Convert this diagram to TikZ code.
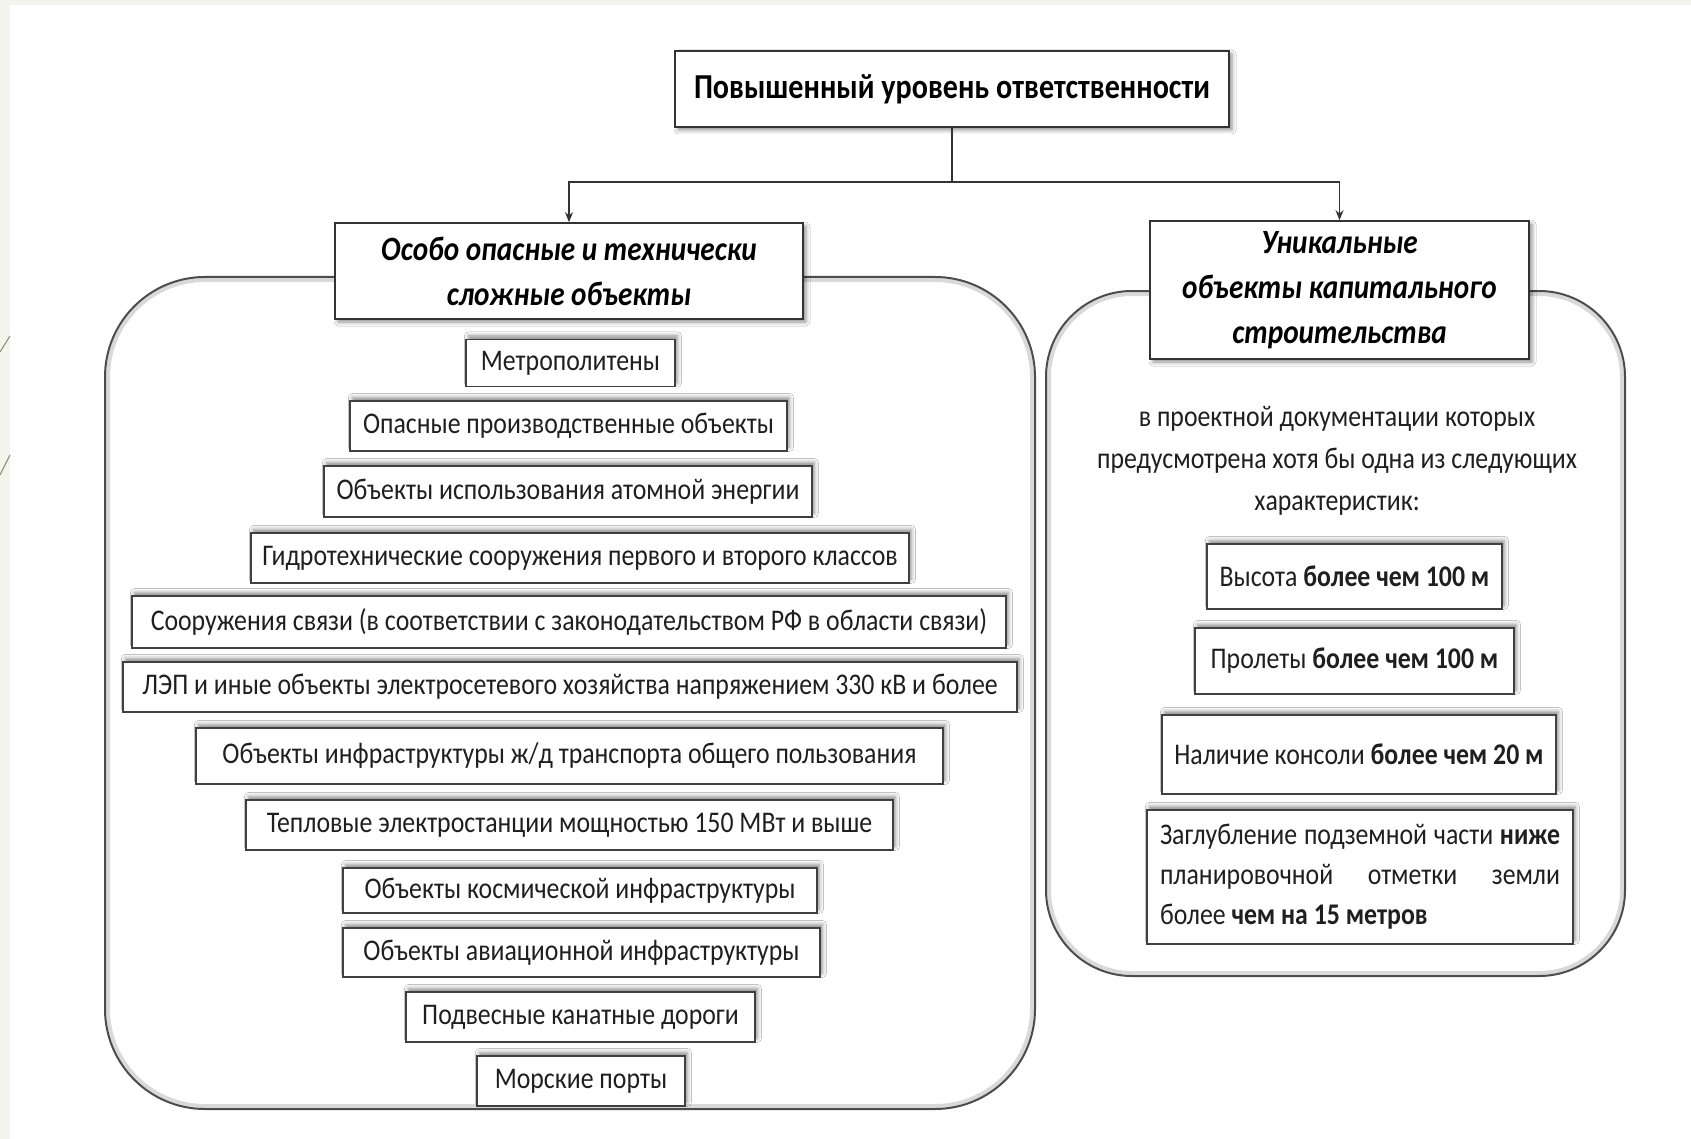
\documentclass[tikz,border=0pt]{standalone}
\usepackage{fontspec}
\setmainfont{Carlito}[FakeStretch=0.86]
\usetikzlibrary{arrows.meta,shadows.blur}
\definecolor{slidebg}{HTML}{F3F4EC}
\definecolor{slideline}{HTML}{8C8672}

\begin{document}
\begin{tikzpicture}[x=0.5pt,y=-0.5pt,
    item/.style={draw=black!75, line width=0.8pt, fill=white, inner sep=0pt,
      font=\fontsize{15}{18}\selectfont, text=black!88,
      blur shadow={shadow xshift=1.2pt, shadow yshift=1.8pt, shadow blur radius=2pt, shadow opacity=45}},
    head/.style={draw=black!80, line width=0.8pt, fill=white, inner sep=0pt, align=center,
      font=\fontsize{17}{22.5}\selectfont\bfseries\itshape,
      blur shadow={shadow xshift=1.5pt, shadow yshift=-1.5pt, shadow blur radius=2pt, shadow opacity=45}},
    group/.style={draw=black!70, line width=1pt},
    conn/.style={draw=black!80, line width=0.75pt}
  ]
  \useasboundingbox (0,0) rectangle (1691,1139);
  % slide background
  \fill[slidebg] (0,0) rectangle (1691,1139);
  \fill[white] (10,5) rectangle (1691,1139);
  \draw[slideline, line width=0.5pt] (0,352) -- (10,336);
  \draw[slideline, line width=0.5pt] (0,475) -- (10,455);

  % the two groups
  \draw[black!15, line width=2pt, rounded corners=48.5pt] (108,280) rectangle (1032,1106);
  \draw[group, rounded corners=50pt] (105,277) rectangle (1035,1109);
  \draw[black!15, line width=2pt, rounded corners=41.5pt] (1049,294) rectangle (1622,973);
  \draw[group, rounded corners=43pt] (1046,291) rectangle (1625,976);

  % headers
  \node[head, font=\fontsize{17.5}{21}\selectfont\bfseries, minimum width=277pt, minimum height=38pt] (resp) at (952,89) {Повышенный уровень ответственности};
  \node[head, minimum width=234pt, minimum height=48pt] (haz) at (569,271) {Особо опасные и технически\\сложные объекты};
  \node[head, minimum width=189.5pt, minimum height=69pt] (uniq) at (1339.5,290) {Уникальные\\объекты капитального\\строительства};

  \coordinate (split) at (952,182);
  \draw[conn] (resp) -- (split);
  \draw[conn, -{Stealth[length=5pt,width=4pt]}] (split) -| (haz);
  \draw[conn, -{Stealth[length=5pt,width=4pt]}] (split) -| (uniq);

  % left list
  \node[item, minimum width=104.5pt, minimum height=23.5pt] (l1) at (570.5,363) {Метрополитены};
  \node[item, minimum width=218.5pt, minimum height=25pt] (l2) at (568.5,426) {Опасные производственные объекты};
  \node[item, minimum width=244pt, minimum height=25.5pt] (l3) at (568,491.5) {Объекты использования атомной энергии};
  \node[item, minimum width=329pt, minimum height=25pt] (l4) at (580,558) {Гидротехнические сооружения первого и второго классов};
  \node[item, minimum width=437pt, minimum height=26pt] (l5) at (569,622) {Сооружения связи (в соответствии с законодательством РФ в области связи)};
  \node[item, minimum width=447pt, minimum height=25pt] (l6) at (570,687) {ЛЭП и иные объекты электросетевого хозяйства напряжением 330 кВ и более};
  \node[item, minimum width=373.5pt, minimum height=28pt] (l7) at (569.5,756) {Объекты инфраструктуры ж/д транспорта общего пользования};
  \node[item, minimum width=323.5pt, minimum height=25pt] (l8) at (569.5,825) {Тепловые электростанции мощностью 150 МВт и выше};
  \node[item, minimum width=237pt, minimum height=22.5pt] (l9) at (580,890.5) {Объекты космической инфраструктуры};
  \node[item, minimum width=238.5pt, minimum height=24.5pt] (l10) at (581.5,952.5) {Объекты авиационной инфраструктуры};
  \node[item, minimum width=174.5pt, minimum height=25pt] (l11) at (580.5,1017) {Подвесные канатные дороги};
  \node[item, minimum width=104pt, minimum height=25pt] (l12) at (581,1081) {Морские порты};

  % right list
  \node[align=center, font=\fontsize{15}{21}\selectfont, text=black!88] (desc) at (1337,461)
    {в проектной документации которых\\предусмотрена хотя бы одна из следующих\\характеристик:};
  \node[item, minimum width=147.5pt, minimum height=32.5pt] (r1) at (1354.5,576.5) {Высота \textbf{более чем 100 м}};
  \node[item, minimum width=159.5pt, minimum height=33pt] (r2) at (1354.5,661) {Пролеты \textbf{более чем 100 м}};
  \node[item, minimum width=197pt, minimum height=39.5pt] (r3) at (1359,754.5) {Наличие консоли \textbf{более чем 20 м}};
  \node[item, minimum width=213pt, minimum height=67pt, align=left,
    font=\fontsize{15}{20}\selectfont] (r4) at (1360,877)
    {\hbox to 200pt{Заглубление\hfill подземной\hfill части\hfill \textbf{ниже}}\\
     \hbox to 200pt{планировочной\hfill отметки\hfill земли}\\
     \hbox to 200pt{более \textbf{чем на 15 метров}\hfill}};
\end{tikzpicture}
\end{document}
